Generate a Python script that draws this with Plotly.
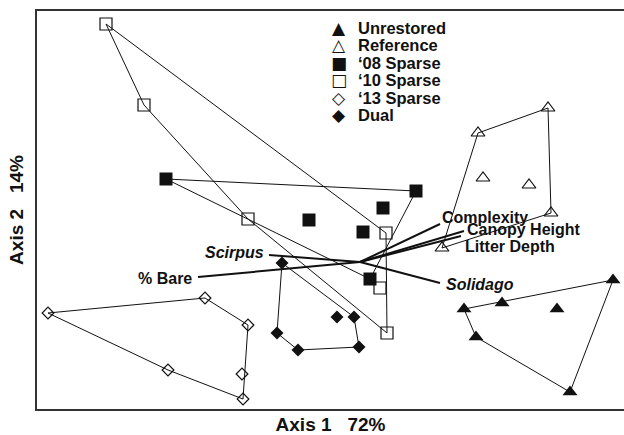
import plotly.graph_objects as go

# ---------------- data (ordination scores) ----------------
group_names = ["Unrestored", "Reference", "\u201808 Sparse", "\u201810 Sparse", "\u201813 Sparse", "Dual"]

unrestored_x = [1.04, 1.42, 1.97, 2.53, 1.16, 2.10]
unrestored_y = [-0.47, -0.41, -0.47, -0.18, -0.75, -1.30]
reference_x = [1.18, 1.88, 1.23, 1.69, 1.91, 0.82]
reference_y = [1.29, 1.54, 0.84, 0.77, 0.49, 0.14]
sparse08_x = [-1.94, 0.56, 0.23, -0.51, 0.03, 0.10]
sparse08_y = [0.83, 0.71, 0.54, 0.42, 0.30, -0.17]
sparse10_x = [-2.54, -2.16, -1.12, 0.26, 0.20, 0.27]
sparse10_y = [2.38, 1.57, 0.43, 0.29, -0.26, -0.71]
sparse13_x = [-3.12, -1.55, -1.12, -1.18, -1.17, -1.92]
sparse13_y = [-0.51, -0.36, -0.63, -1.12, -1.37, -1.08]
dual_x = [-0.78, -0.83, -0.62, -0.01, -0.06, -0.23]
dual_y = [-0.01, -0.71, -0.88, -0.85, -0.55, -0.55]

vector_labels = ["% Bare", "<i>Scirpus</i>", "<i>Solidago</i>", "Complexity", "Canopy Height", "Litter Depth"]
vector_x = [-1.62, -0.91, 0.80, 0.80, 1.04, 1.01]
vector_y = [-0.15, 0.07, -0.21, 0.38, 0.31, 0.26]

axis_titles = ["Axis 1\u00a0\u00a0\u00a072%", "Axis 2\u00a0\u00a0\u00a014%"]
legend_glyphs = ["\u25B2", "\u25B3", "\u25A0", "\u25A1", "\u25C7", "\u25C6"]

# ---------------- styles ----------------
W, H = 624, 435
ML, MR, MT, MB = 37, 0, 11, 26
INK = "#111111"
FONT = "Arial, Liberation Sans, sans-serif"

styles = [
    dict(symbol="triangle-up", size=13, color=INK, line=dict(width=0)),
    dict(symbol="triangle-up-open", size=12, color=INK, line=dict(width=1.2)),
    dict(symbol="square", size=13, color=INK, line=dict(width=0)),
    dict(symbol="square-open", size=12, color=INK, line=dict(width=1.2)),
    dict(symbol="diamond-open", size=9, color=INK, line=dict(width=1.2)),
    dict(symbol="diamond", size=10, color=INK, line=dict(width=0)),
]

groups = [
    (unrestored_x, unrestored_y),
    (reference_x, reference_y),
    (sparse08_x, sparse08_y),
    (sparse10_x, sparse10_y),
    (sparse13_x, sparse13_y),
    (dual_x, dual_y),
]


def convex_hull(xs, ys):
    pts = sorted(set(zip(xs, ys)))

    def cross(o, a, b):
        return (a[0] - o[0]) * (b[1] - o[1]) - (a[1] - o[1]) * (b[0] - o[0])

    lower, upper = [], []
    for p in pts:
        while len(lower) >= 2 and cross(lower[-2], lower[-1], p) <= 0:
            lower.pop()
        lower.append(p)
    for p in reversed(pts):
        while len(upper) >= 2 and cross(upper[-2], upper[-1], p) <= 0:
            upper.pop()
        upper.append(p)
    hull = lower[:-1] + upper[:-1]
    hull.append(hull[0])
    return [p[0] for p in hull], [p[1] for p in hull]


fig = go.Figure()

# hull outlines
for (gx, gy), name in zip(groups, group_names):
    hx, hy = convex_hull(gx, gy)
    fig.add_trace(go.Scatter(x=hx, y=hy, mode="lines", line=dict(color=INK, width=1),
                             hoverinfo="skip", showlegend=False))

# environmental vectors from the origin
vx, vy = [], []
for ex, ey in zip(vector_x, vector_y):
    vx += [0, ex, None]
    vy += [0, ey, None]
fig.add_trace(go.Scatter(x=vx, y=vy, mode="lines", line=dict(color=INK, width=2),
                         hoverinfo="skip", showlegend=False))

# markers ('10 drawn before '08 so filled squares sit on top)
order = [0, 1, 3, 2, 4, 5]
for i in order:
    gx, gy = groups[i]
    fig.add_trace(go.Scatter(x=gx, y=gy, mode="markers", name=group_names[i],
                             marker=styles[i], showlegend=False))

# vector labels
label_pos = [
    dict(xanchor="right", xshift=-6, yshift=-1),
    dict(xanchor="right", xshift=-5, yshift=3),
    dict(xanchor="left", xshift=6, yshift=-1),
    dict(xanchor="left", xshift=2, yshift=7),
    dict(xanchor="left", xshift=3, yshift=2),
    dict(xanchor="left", xshift=4, yshift=-10),
]
for lab, ex, ey, pos in zip(vector_labels, vector_x, vector_y, label_pos):
    fig.add_annotation(x=ex, y=ey, text=lab, showarrow=False, yanchor="middle",
                       borderpad=0, borderwidth=0,
                       font=dict(family=FONT, size=16, color=INK, weight="bold"), **pos)

# legend (drawn as text)
pw, ph = W - ML - MR, H - MT - MB
for i, (glyph, name) in enumerate(zip(legend_glyphs, group_names)):
    py = 28 + i * 17.4
    yp = (H - MB - py) / ph
    fig.add_annotation(xref="paper", yref="paper", x=(339 - ML) / pw, y=yp, text=glyph,
                       showarrow=False, xanchor="center", yanchor="middle",
                       borderpad=0, borderwidth=0,
                       font=dict(family="DejaVu Sans", size=17, color=INK))
    fig.add_annotation(xref="paper", yref="paper", x=(358 - ML) / pw, y=yp, text=name,
                       showarrow=False, xanchor="left", yanchor="middle",
                       borderpad=0, borderwidth=0,
                       font=dict(family=FONT, size=16.5, color=INK, weight="bold"))

axis_common = dict(showgrid=False, zeroline=False, showticklabels=False, ticks="",
                   showline=True, linewidth=2, linecolor="#333333", automargin=False)
fig.update_xaxes(range=[-3.23, 2.64], mirror=True, **axis_common,
                 title=dict(text=axis_titles[0], standoff=8,
                            font=dict(family=FONT, size=19, color=INK, weight="bold")))
fig.update_yaxes(range=[-1.47, 2.51], mirror=False, **axis_common,
                 title=dict(text=axis_titles[1], standoff=6,
                            font=dict(family=FONT, size=19, color=INK, weight="bold")))

fig.update_layout(width=W, height=H, margin=dict(l=ML, r=MR, t=MT, b=MB, autoexpand=False),
                  paper_bgcolor="white", plot_bgcolor="white", showlegend=False)

fig.write_html("out.html", config={"displayModeBar": False},
               post_script="document.body.style.margin='0px';")
